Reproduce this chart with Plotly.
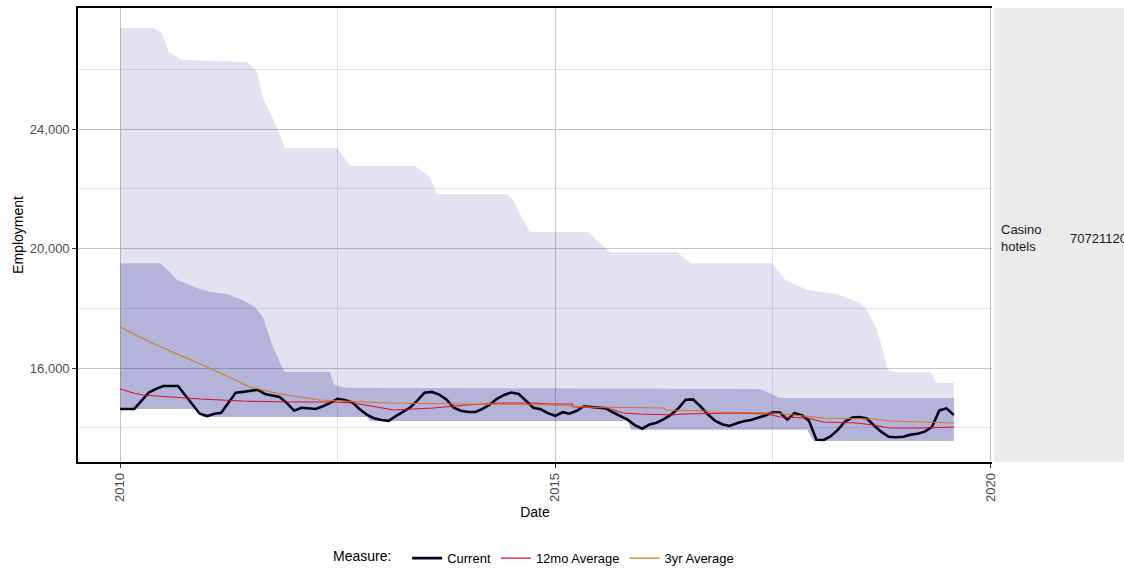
import pandas as pd
import plotly.graph_objects as go

# ---------------- data ----------------
current_start = "2010-01-01"
current_values = [
    14630, 14630, 14630, 14910, 15180, 15300, 15400, 15400, 15400, 15090,
    14780, 14470, 14390, 14470, 14500, 14850, 15170, 15200, 15230, 15270,
    15130, 15070, 15030, 14830, 14570, 14670, 14650, 14630, 14720, 14830,
    14970, 14930, 14850, 14630, 14440, 14320, 14260, 14230, 14380, 14540,
    14670, 14910, 15170, 15200, 15110, 14950, 14670, 14570, 14530, 14530,
    14630, 14770, 14970, 15100, 15180, 15130, 14900, 14670, 14620, 14490,
    14400, 14520, 14470, 14570, 14720, 14700, 14680, 14650, 14510, 14380,
    14270, 14090, 13970, 14110, 14170, 14290, 14440, 14650, 14940, 14950,
    14720, 14460, 14240, 14120, 14060, 14150, 14220, 14260, 14330, 14410,
    14520, 14510, 14270, 14490, 14420, 14230, 13600, 13590, 13710, 13930,
    14210, 14340, 14360, 14310, 14070, 13860, 13700, 13680, 13700, 13770,
    13800, 13870, 14030, 14580, 14650, 14430,
]

avg12_dates = [
    "2010-01-01", "2010-02-25", "2010-04-06", "2010-07-16", "2010-12-01",
    "2011-05-31", "2011-12-01", "2012-06-12", "2012-09-05", "2012-12-14",
    "2013-02-20", "2013-08-07", "2013-12-27", "2014-05-15", "2014-10-01",
    "2014-12-10", "2015-03-13", "2015-03-17", "2015-08-07", "2015-10-12",
    "2015-12-23", "2016-05-10", "2016-06-21", "2017-02-16", "2017-06-09",
    "2017-08-02", "2017-11-24", "2018-01-30", "2018-06-21", "2018-08-27",
    "2018-11-06", "2019-03-25", "2019-08-01",
]
avg12_values = [
    15297, 15163, 15096, 15029, 14962,
    14895, 14862, 14862, 14829, 14695,
    14594, 14661, 14762, 14829, 14829,
    14795, 14795, 14695, 14661, 14494,
    14460, 14427, 14460, 14494, 14460,
    14360, 14327, 14193, 14159, 14092,
    13992, 13992, 14025,
]

avg3_dates = [
    "2010-01-01", "2010-05-05", "2010-08-27", "2010-12-23", "2011-06-29",
    "2011-11-02", "2012-04-18", "2013-02-07", "2013-12-27", "2014-12-10",
    "2015-05-27", "2016-03-28", "2016-04-14", "2016-09-29", "2016-10-12",
    "2017-07-04", "2018-01-30", "2018-08-27", "2018-11-06", "2019-08-01",
]
avg3_values = [
    17372, 16870, 16469, 16067, 15364,
    15130, 14929, 14829, 14795, 14762,
    14695, 14661, 14594, 14561, 14527,
    14494, 14327, 14293, 14226, 14159,
]

long_top_dates = [
    "2010-01-01", "2010-05-18", "2010-06-25", "2010-07-24", "2010-09-17",
    "2011-06-17", "2011-07-29", "2011-08-23", "2011-10-21", "2011-11-24",
    "2012-06-29", "2012-08-23", "2013-05-23", "2013-07-24", "2013-08-23",
    "2014-06-17", "2014-07-08", "2014-08-19", "2014-09-17", "2015-05-18",
    "2015-08-19", "2016-05-27", "2016-07-20", "2017-06-29", "2017-08-23",
    "2017-11-24", "2018-02-28", "2018-04-23", "2018-07-03", "2018-08-02",
    "2018-09-13", "2018-10-29", "2018-11-19", "2019-04-23", "2019-05-23",
    "2019-08-01",
]
long_top_values = [
    27380, 27380, 27210, 26580, 26310,
    26240, 25910, 25040, 24070, 23360,
    23360, 22760, 22760, 22390, 21820,
    21820, 21620, 20950, 20550, 20550,
    19880, 19880, 19510, 19510, 18950,
    18610, 18510, 18410, 18180, 17940,
    17270, 15930, 15870, 15870, 15500,
    15500,
]

short_top_dates = [
    "2010-01-01", "2010-06-17", "2010-07-29", "2010-08-27", "2010-11-20",
    "2011-01-13", "2011-03-25", "2011-05-31", "2011-07-20", "2011-08-23",
    "2011-10-04", "2011-11-11", "2011-11-24", "2012-05-31", "2012-06-17",
    "2012-08-02", "2017-05-10", "2017-08-02", "2019-08-01",
]
short_top_values = [
    19510, 19510, 19210, 18950, 18680,
    18540, 18480, 18280, 18040, 17710,
    16700, 16030, 15870, 15870, 15430,
    15340, 15300, 15000, 15000,
]

low_dates = [
    "2010-01-01", "2010-11-24", "2010-12-15", "2012-11-01", "2012-11-15",
    "2015-11-01", "2015-11-15", "2017-11-24", "2017-12-20", "2019-08-01",
]
low_values = [
    14630, 14630, 14360, 14360, 14230,
    14230, 13930, 13930, 13560, 13560,
]

strip_labels = ["Casino<br>hotels", "70721120"]
y_ticks = [16000, 20000, 24000]

# ---------------- figure ----------------
FONT = "Liberation Sans, Arial, sans-serif"
current_dates = pd.date_range(current_start, periods=len(current_values), freq="MS")

fig = go.Figure()

# long-window range band (light)
fig.add_trace(go.Scatter(
    x=list(long_top_dates) + list(reversed(low_dates)),
    y=list(long_top_values) + list(reversed(low_values)),
    fill="toself", fillcolor="rgba(0,0,128,0.115)",
    line=dict(width=0), mode="lines", hoverinfo="skip", showlegend=False,
))
# short-window range band (dark)
fig.add_trace(go.Scatter(
    x=list(short_top_dates) + list(reversed(low_dates)),
    y=list(short_top_values) + list(reversed(low_values)),
    fill="toself", fillcolor="rgba(0,0,128,0.20)",
    line=dict(width=0), mode="lines", hoverinfo="skip", showlegend=False,
))

fig.add_trace(go.Scatter(x=current_dates, y=current_values, mode="lines",
                         name="Current", line=dict(color="#05051a", width=2.6)))
fig.add_trace(go.Scatter(x=avg12_dates, y=avg12_values, mode="lines",
                         name="12mo Average", line=dict(color="#d8102e", width=1.2)))
fig.add_trace(go.Scatter(x=avg3_dates, y=avg3_values, mode="lines",
                         name="3yr Average", line=dict(color="#d07a1e", width=1.2)))

# facet strip on the right
fig.add_shape(type="rect", xref="paper", yref="paper", x0=1.0025, x1=1.2,
              y0=0, y1=1, fillcolor="#ebebeb", line=dict(width=0), layer="below")
fig.add_annotation(text=strip_labels[0], xref="paper", yref="paper",
                   x=1.0077, y=0.493, xanchor="left", yanchor="middle", align="left",
                   showarrow=False, font=dict(family=FONT, size=13, color="#1a1a1a"))
fig.add_annotation(text=strip_labels[1], xref="paper", yref="paper",
                   x=1.0835, y=0.493, xanchor="left", yanchor="middle", align="left",
                   showarrow=False, font=dict(family=FONT, size=13, color="#1a1a1a"))

fig.update_layout(
    width=1124, height=569,
    margin=dict(l=78, r=132, t=8, b=107, autoexpand=False),
    paper_bgcolor="white", plot_bgcolor="white",
    font=dict(family=FONT, size=13, color="#000000"),
    showlegend=True,
    legend=dict(
        orientation="h", x=0.5, xanchor="center",
        yref="container", y=0.019, yanchor="middle",
        title=dict(text="Measure:  ", side="left",
                   font=dict(family=FONT, size=14, color="#000000")),
        font=dict(family=FONT, size=13, color="#000000"),
        itemwidth=30, bgcolor="rgba(0,0,0,0)", valign="middle",
    ),
    xaxis=dict(
        type="date", automargin=False,
        range=["2009-07-08", "2020-01-08"],
        tick0="2010-01-01", dtick="M60", tickformat="%Y",
        tickangle=-90,
        tickfont=dict(family=FONT, size=13, color="#4d4d4d"),
        ticks="outside", ticklen=4, tickcolor="#333333", tickwidth=1,
        showgrid=True, gridcolor="#c6c6c6", gridwidth=1.2,
        minor=dict(dtick="M30", tick0="2010-01-01", showgrid=True,
                   gridcolor="#e4e4e4", gridwidth=1, ticks=""),
        showline=True, linecolor="#000000", linewidth=1.6, mirror=True,
        zeroline=False,
        title=dict(text="Date", font=dict(family=FONT, size=14, color="#000000"),
                   standoff=6),
    ),
    yaxis=dict(
        automargin=False,
        range=[12854, 28050],
        tickvals=y_ticks, tickformat=",d",
        tickfont=dict(family=FONT, size=13, color="#4d4d4d"),
        ticks="outside", ticklen=4, tickcolor="#333333", tickwidth=1,
        showgrid=True, gridcolor="#c6c6c6", gridwidth=1.2,
        minor=dict(tickvals=[14000, 18000, 22000, 26000], showgrid=True,
                   gridcolor="#e4e4e4", gridwidth=1, ticks=""),
        showline=True, linecolor="#000000", linewidth=1.6,
        zeroline=False,
        title=dict(text="Employment", font=dict(family=FONT, size=14, color="#000000"),
                   standoff=3),
    ),
)

fig.write_html(
    "out.html",
    config={"displayModeBar": False},
    post_script="document.body.style.margin='0';document.body.style.overflow='hidden';",
)
